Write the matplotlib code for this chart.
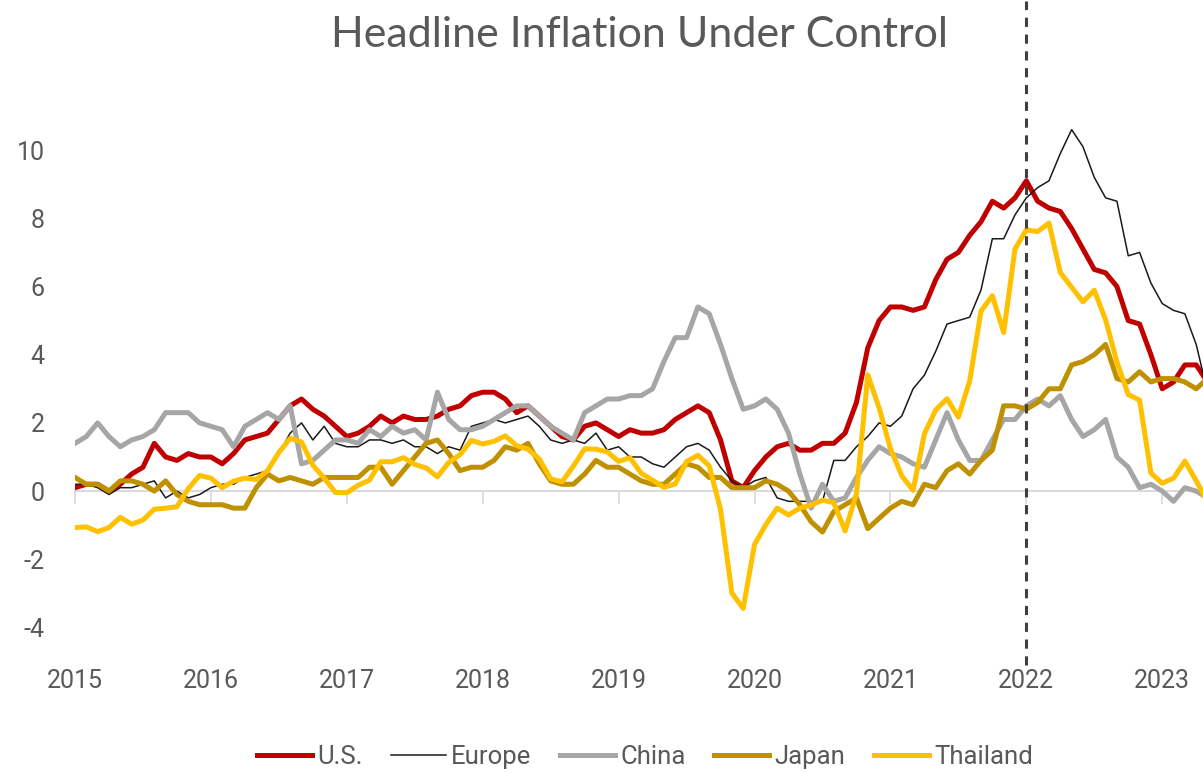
import matplotlib
matplotlib.use('Agg')
import matplotlib.pyplot as plt
import numpy as np

# monthly headline CPI, % YoY (first point sits on the "2015" label)
us = [0.1, 0.2, 0.2, 0.0, 0.2, 0.5, 0.7,
      1.4, 1.0, 0.9, 1.1, 1.0, 1.0, 0.8, 1.1, 1.5, 1.6, 1.7, 2.1,
      2.5, 2.7, 2.4, 2.2, 1.9, 1.6, 1.7, 1.9, 2.2, 2.0, 2.2, 2.1,
      2.1, 2.2, 2.4, 2.5, 2.8, 2.9, 2.9, 2.7, 2.3, 2.5, 2.2, 1.9,
      1.6, 1.5, 1.9, 2.0, 1.8, 1.6, 1.8, 1.7, 1.7, 1.8, 2.1, 2.3,
      2.5, 2.3, 1.5, 0.3, 0.1, 0.6, 1.0, 1.3, 1.4, 1.2, 1.2, 1.4,
      1.4, 1.7, 2.6, 4.2, 5.0, 5.4, 5.4, 5.3, 5.4, 6.2, 6.8, 7.0,
      7.5, 7.9, 8.5, 8.3, 8.6, 9.1, 8.5, 8.3, 8.2, 7.7, 7.1, 6.5,
      6.4, 6.0, 5.0, 4.9, 4.0, 3.0, 3.2, 3.7, 3.7, 3.2]
europe = [0.2, 0.2, 0.1, -0.1, 0.1, 0.1, 0.2,
          0.3, -0.2, 0.0, -0.2, -0.1, 0.1, 0.2, 0.2, 0.4, 0.5, 0.6, 1.1,
          1.7, 2.0, 1.5, 1.9, 1.4, 1.3, 1.3, 1.5, 1.5, 1.4, 1.5, 1.3,
          1.3, 1.1, 1.3, 1.2, 1.9, 2.0, 2.1, 2.0, 2.1, 2.2, 1.9, 1.5,
          1.4, 1.5, 1.4, 1.7, 1.2, 1.3, 1.0, 1.0, 0.8, 0.7, 1.0, 1.3,
          1.4, 1.2, 0.7, 0.3, 0.1, 0.3, 0.4, -0.2, -0.3, -0.3, -0.3, -0.3,
          0.9, 0.9, 1.3, 1.6, 2.0, 1.9, 2.2, 3.0, 3.4, 4.1, 4.9, 5.0,
          5.1, 5.9, 7.4, 7.4, 8.1, 8.6, 8.9, 9.1, 9.9, 10.6, 10.1, 9.2,
          8.6, 8.5, 6.9, 7.0, 6.1, 5.5, 5.3, 5.2, 4.3, 2.9]
china = [1.4, 1.6, 2.0, 1.6, 1.3, 1.5, 1.6,
         1.8, 2.3, 2.3, 2.3, 2.0, 1.9, 1.8, 1.3, 1.9, 2.1, 2.3, 2.1,
         2.5, 0.8, 0.9, 1.2, 1.5, 1.5, 1.4, 1.8, 1.6, 1.9, 1.7, 1.8,
         1.5, 2.9, 2.1, 1.8, 1.8, 1.9, 2.1, 2.3, 2.5, 2.5, 2.2, 1.9,
         1.7, 1.5, 2.3, 2.5, 2.7, 2.7, 2.8, 2.8, 3.0, 3.8, 4.5, 4.5,
         5.4, 5.2, 4.3, 3.3, 2.4, 2.5, 2.7, 2.4, 1.7, 0.5, -0.5, 0.2,
         -0.3, -0.2, 0.4, 0.9, 1.3, 1.1, 1.0, 0.8, 0.7, 1.5, 2.3, 1.5,
         0.9, 0.9, 1.5, 2.1, 2.1, 2.5, 2.7, 2.5, 2.8, 2.1, 1.6, 1.8,
         2.1, 1.0, 0.7, 0.1, 0.2, 0.0, -0.3, 0.1, 0.0, -0.2]
japan = [0.4, 0.2, 0.2, 0.0, 0.3, 0.3, 0.2,
         0.0, 0.3, -0.1, -0.3, -0.4, -0.4, -0.4, -0.5, -0.5, 0.1, 0.5, 0.3,
         0.4, 0.3, 0.2, 0.4, 0.4, 0.4, 0.4, 0.7, 0.7, 0.2, 0.6, 1.0,
         1.4, 1.5, 1.1, 0.6, 0.7, 0.7, 0.9, 1.3, 1.2, 1.4, 0.8, 0.3,
         0.2, 0.2, 0.5, 0.9, 0.7, 0.7, 0.5, 0.3, 0.2, 0.2, 0.5, 0.8,
         0.7, 0.4, 0.4, 0.1, 0.1, 0.1, 0.3, 0.2, 0.0, -0.4, -0.9, -1.2,
         -0.6, -0.4, -0.2, -1.1, -0.8, -0.5, -0.3, -0.4, 0.2, 0.1, 0.6, 0.8,
         0.5, 0.9, 1.2, 2.5, 2.5, 2.4, 2.6, 3.0, 3.0, 3.7, 3.8, 4.0,
         4.3, 3.3, 3.2, 3.5, 3.2, 3.3, 3.3, 3.2, 3.0, 3.3]
thailand = [-1.07, -1.05, -1.19, -1.07, -0.77, -0.97, -0.85,
            -0.53, -0.50, -0.46, 0.07, 0.46, 0.38, 0.10, 0.29, 0.38, 0.34, 0.60, 1.13,
            1.55, 1.44, 0.76, 0.38, -0.04, -0.05, 0.17, 0.32, 0.86, 0.86, 0.98, 0.78,
            0.68, 0.42, 0.84, 1.07, 1.49, 1.38, 1.46, 1.62, 1.33, 1.23, 0.94, 0.36,
            0.27, 0.73, 1.24, 1.23, 1.15, 0.87, 0.98, 0.52, 0.32, 0.11, 0.21, 0.87,
            1.05, 0.74, -0.54, -2.99, -3.44, -1.57, -0.98, -0.50, -0.70, -0.50, -0.41, -0.27,
            -0.34, -1.17, -0.08, 3.41, 2.44, 1.25, 0.45, 0.02, 1.68, 2.38, 2.71, 2.17,
            3.23, 5.28, 5.73, 4.65, 7.10, 7.66, 7.61, 7.86, 6.41, 5.98, 5.55, 5.89,
            5.02, 3.79, 2.83, 2.67, 0.53, 0.23, 0.38, 0.88, 0.30, -0.31]

years = ['2015', '2016', '2017', '2018', '2019', '2020', '2021', '2022', '2023']
yticks = [-4, -2, 0, 2, 4, 6, 8, 10]
marker_month = 84  # dashed line position

names = ['U.S.', 'Europe', 'China', 'Japan', 'Thailand']
series = [us, europe, china, japan, thailand]
colors = ['#C00000', '#1a1a1a', '#A6A6A6', '#BF9000', '#FFC000']
widths = [3.6, 1.1, 3.6, 3.6, 3.6]

txt = '#595959'
font = ['Roboto', 'DejaVu Sans']

fig = plt.figure(figsize=(12.03, 7.73), dpi=100)
ax = fig.add_axes([75 / 1203, 1 - 665 / 773, 1 - 75 / 1203, (665 - 116) / 773])

x = np.arange(len(us))
for name, s, c, w in zip(names, series, colors, widths):
    ax.plot(x, s, color=c, lw=w, label=name, solid_joinstyle='round')

ax.set_xlim(0, 99.6)
ax.set_ylim(-5.1, 11)

# zero line with year ticks
for side in ['top', 'right', 'left']:
    ax.spines[side].set_visible(False)
ax.spines['bottom'].set_position(('data', 0))
ax.spines['bottom'].set_color('#D9D9D9')
ax.spines['bottom'].set_linewidth(1.4)
ax.spines['bottom'].set_zorder(0)
ax.set_xticks(np.arange(0, 97, 12))
ax.tick_params(axis='x', length=9, width=1.2, color='#D9D9D9', labelbottom=False)

ax.set_yticks(yticks)
ax.set_yticklabels([str(v) for v in yticks], fontfamily=font, fontsize=18, color=txt)
ax.tick_params(axis='y', length=0, pad=22)

sec = ax.secondary_xaxis(0)
sec.set_xticks(np.arange(0, 97, 12))
sec.set_xticklabels(years, fontfamily=font, fontsize=18, color=txt)
sec.tick_params(length=0, pad=3)
sec.spines['bottom'].set_visible(False)

ax.axvline(marker_month, ymin=0, ymax=1.21, color='#404040', lw=2.2,
           ls=(0, (3, 2.5)), clip_on=False)

fig.text(0.532, 0.955, 'Headline Inflation Under Control', ha='center', va='center',
         fontsize=31, color=txt, fontfamily=['Lato', 'DejaVu Sans'])

fig.legend(loc='center', bbox_to_anchor=(0.536, 0.021), ncol=5, frameon=False,
           handlelength=2.15, handletextpad=0.2, columnspacing=1.1,
           prop={'family': font, 'size': 18.5}, labelcolor=txt)

fig.savefig('out.png', dpi=100)
